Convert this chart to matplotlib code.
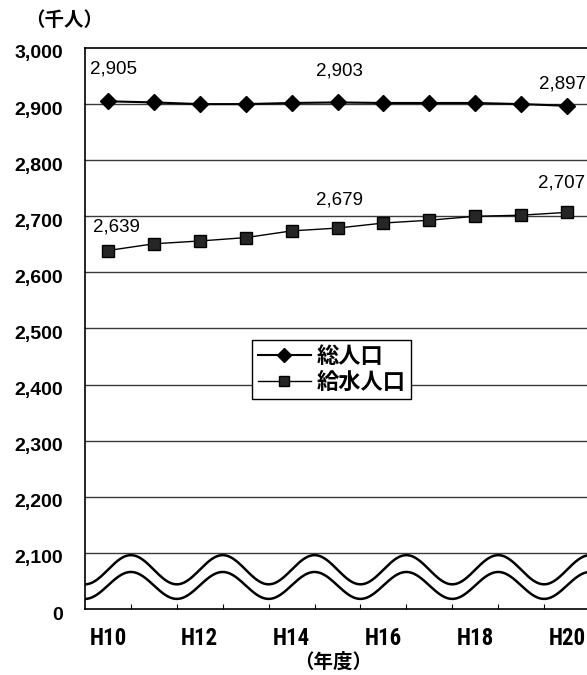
import numpy as np
import matplotlib

matplotlib.use("Agg")
import matplotlib.pyplot as plt
from matplotlib.transforms import ScaledTranslation
from matplotlib import font_manager

plt.rcParams["font.family"] = ["Liberation Sans", "Noto Sans CJK JP"]

years = ["H10", "H11", "H12", "H13", "H14", "H15", "H16", "H17", "H18", "H19", "H20"]
total_pop = [2905, 2903, 2900, 2900, 2902, 2903, 2902, 2902, 2902, 2900, 2897]
served_pop = [2639, 2651, 2656, 2662, 2674, 2679, 2688, 2693, 2700, 2702, 2707]
y_ticks = [2000, 2100, 2200, 2300, 2400, 2500, 2600, 2700, 2800, 2900, 3000]
y_labels = ["0", "2,100", "2,200", "2,300", "2,400", "2,500", "2,600",
            "2,700", "2,800", "2,900", "3,000"]
labelled = [0, 5, 10]

# label offsets in pixels (dx, dy) for each labelled point
total_offsets = {0: (6, 32), 5: (2, 31), 10: (-5, 22)}
served_offsets = {0: (8, 24), 5: (2, 28), 10: (-5, 29)}

# narrow face for the year labels if the system has one
names = {f.name for f in font_manager.fontManager.ttflist}
narrow = None
for cand in ["Liberation Sans Narrow", "DejaVu Sans Condensed", "Roboto Condensed"]:
    if cand in names:
        narrow = cand
        break

fig = plt.figure(figsize=(5.87, 6.75), dpi=100)
ax = fig.add_axes([85 / 587, 66 / 675, 505 / 587, 561 / 675])
x = np.arange(len(years))

ax.set_xlim(-0.5, len(years) - 0.5)
ax.set_ylim(2000, 3000)

for v in y_ticks[1:-1]:
    ax.axhline(v, color="#3a3a3a", linewidth=1.0, zorder=1)

# axis break waves between 0 and 2,100
xs = np.linspace(-0.5, len(years) - 0.5, 600)
for centre, amp in [(0.70, 0.26), (0.42, 0.24)]:
    ax.plot(xs, 2000 + 100 * (centre + amp * np.cos(np.pi * (xs - 0.5))),
            color="black", linewidth=1.8, zorder=2)

ax.plot(x, total_pop, color="black", linewidth=1.5, marker="D", markersize=7.8,
        label="総人口", zorder=4)
ax.plot(x, served_pop, color="black", linewidth=1.0, marker="s", markersize=9.2,
        markerfacecolor="#262626", markeredgecolor="black", label="給水人口", zorder=4)

for i in labelled:
    ax.annotate(f"{total_pop[i]:,}", (x[i], total_pop[i]), xytext=total_offsets[i],
                textcoords="offset pixels", ha="center", va="center", fontsize=13.5)
    ax.annotate(f"{served_pop[i]:,}", (x[i], served_pop[i]), xytext=served_offsets[i],
                textcoords="offset pixels", ha="center", va="center", fontsize=13.5)

ax.set_yticks(y_ticks)
ax.set_yticklabels(y_labels, fontsize=14, fontweight="bold")
ax.tick_params(axis="y", length=0, pad=16)
shift = ScaledTranslation(0, -4 / 100, fig.dpi_scale_trans)
for lab in ax.get_yticklabels():
    lab.set_transform(lab.get_transform() + shift)

ax.set_xticks(x[::2])
if narrow:
    ax.set_xticklabels(years[::2], fontsize=16.5, fontweight="bold", family=narrow)
else:
    ax.set_xticklabels(years[::2], fontsize=15, fontweight="bold",
                       family="DejaVu Sans", fontstretch="condensed")
ax.set_xticks(x[:-1] + 0.5, minor=True)
ax.tick_params(axis="x", which="major", length=0, pad=13)
ax.tick_params(axis="x", which="minor", direction="in", length=3.5, width=0.8)

for side in ["left", "bottom", "top"]:
    ax.spines[side].set_color("black")
    ax.spines[side].set_linewidth(1.2)
ax.spines["right"].set_visible(False)

leg = ax.legend(loc="upper left", bbox_to_anchor=(0.331, 0.48), borderaxespad=0,
                fancybox=False, framealpha=1, edgecolor="black",
                prop={"weight": "bold", "size": 16, "family": ["Noto Sans CJK JP"]},
                handlelength=2.4, handletextpad=0.25, labelspacing=0.12,
                borderpad=0.25, markerscale=0.85)
leg.get_frame().set_linewidth(1.0)
leg.set_zorder(5)

fig.text(25 / 587, 1 - 21 / 675, "（千人）", fontsize=14, fontweight="bold",
         family=["Noto Sans CJK JP"], ha="left", va="center")
fig.text(333 / 587, 1 - 662 / 675, "（年度）", fontsize=14, fontweight="bold",
         family=["Noto Sans CJK JP"], ha="center", va="center")

fig.savefig("out.png", dpi=100)
